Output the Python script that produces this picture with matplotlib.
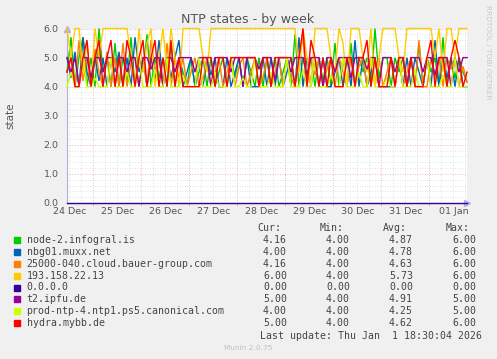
import numpy as np
import matplotlib
matplotlib.use("Agg")
import matplotlib.pyplot as plt

# ---------------- data ----------------
series_names = [
    "node-2.infogral.is",
    "nbg01.muxx.net",
    "25000-040.cloud.bauer-group.com",
    "193.158.22.13",
    "0.0.0.0",
    "t2.ipfu.de",
    "prod-ntp-4.ntp1.ps5.canonical.com",
    "hydra.mybb.de",
]
series_colors = ["#00CC00", "#0066B3", "#FF8000", "#FFCC00",
                 "#330099", "#990099", "#CCFF00", "#FF0000"]

cur_vals = ["4.16", "4.00", "4.16", "6.00", "0.00", "5.00", "4.00", "5.00"]
min_vals = ["4.00", "4.00", "4.00", "4.00", "0.00", "4.00", "4.00", "4.00"]
avg_vals = ["4.87", "4.78", "4.63", "5.73", "0.00", "4.91", "4.25", "4.62"]
max_vals = ["6.00", "6.00", "6.00", "6.00", "0.00", "5.00", "5.00", "6.00"]

node2 = [4.5,5.7,4,5,5.7,4,5,4,6,4.5,
         5,4,5.5,4,5,4.2,5.7,4,5,4.5,
         5.8,4,5,4.3,5,4,5.5,4,5,4.5,
         4,5,4,4.5,5,4,5,4,4.5,5,
         4,5,4.3,5,4,5,4.5,4,5,4,
         5,4,5,4,4.5,5,4,5.8,4,5,
         4.3,5,4,5,4.2,5,4,5.5,4,5,
         4,5.5,4,5,4.5,5,4,6,4.3,5,
         5,4,5,4.5,5,4,5,4,5.5,4,
         5,4.5,5,4,5.7,4,5,4.3,5,4.5,4.16]
nbg01 = [5,4.3,5.2,4,5.7,4.5,4,5,4.2,5,
         4,5,4.5,5.2,4,5,4,5.7,4.5,5,
         4,5,4.2,5.6,4,5,4.3,5,5.6,4,
         4.5,5,4,5,4,5,4.4,5,4,4,
         5,4,4.5,5,4,5,4,4,4,5,
         4,5,4,5,4,4.5,5,4,5.7,4,
         5,4,5,4,5,4,4,4.5,5,4,
         5,4,5.6,4,5,4,4.5,5,4,4,
         4,4,4,5,4,5,4,5,4.5,4,
         5,4,5.6,4,5,4.3,5,4,5,4,4]
bauer = [4.5,5,4,5.6,4.2,5,4,5.3,4.5,4,
         5.2,4,5,4,5.5,4,4.8,5,4,5,
         4,5.6,4.5,5,4,5.5,4,5,4.3,5,
         4,4.5,5,4,4.2,5,4,4.5,5,4,
         4.5,5,4,4.7,5,4,4.5,5,4,4.3,
         5,4,4.5,5,4,5,4.3,4,5,5.7,
         4,5,4.4,5,4,4.6,5,4,5,4.5,
         4,5,4,4.7,5,4,5,4,5,4,
         4.5,5,4,5,4,4.5,5,4,5.6,4,
         4,5,4.3,5,4,5,4.6,5,4,4.7,4.16]
ip193 = [6,5,6,6,4.5,5.5,4,6,5,6,
         6,6,6,6,6,6,5,4,6,4.5,
         5.5,6,4,5,6,4.5,6,5,4,6,
         6,6,6,6,5,4.5,6,6,6,6,
         6,6,6,6,6,6,6,6,6,6,
         6,6,6,6,6,6,6,6,4.5,6,
         5,4,6,6,6,6,5,4.5,6,5.5,
         4,6,6,6,5,4.5,6,4,5,6,
         6,6,6,5,4.5,6,6,6,6,6,
         6,6,5,6,4.5,6,6,5,6,6,6]
zero = [0] * 101
t2ipfu = [5,4.5,5,4,5,5,4.3,5,5,4.5,
          5,5,4,5,5,4.5,5,5,4,5,
          5,4.6,5,5,4,5,5,4.5,5,5,
          5,5,4.5,5,5,5,4,5,5,5,
          5,4.5,5,5,4,5,5,5,4.6,5,
          5,5,4.2,5,5,5,4.5,5,5,5,
          4.4,5,5,5,4,5,5,4.5,5,5,
          5,4.3,5,5,5,4.6,5,5,4,5,
          5,5,4.5,5,5,4,5,5,5,4.5,
          5,5,4.4,5,5,5,4,5,4.5,5,5]
prodntp = [4,4.5,4,4,5,4,4,4.3,4,4,
           4,5,4,4,4,4.5,4,4,5,4,
           4,4,4.6,4,4,5,4,4,4,4.4,
           4,4,4,5,4,4,4,4.5,4,4,
           4,5,4,4,4.3,4,4,5,4,4,
           4,4.5,4,4,4,5,4,4,4,4.6,
           4,4,5,4,4,4,4.4,4,4,5,
           4,4,4,4.5,4,4,5,4,4,4,
           4.3,4,4,5,4,4,4,4.6,4,4,
           5,4,4,4,4.4,4,4,5,4,4,4]
hydra = [4.5,5,4,4,5,5.6,4,5,5.6,4,
         5,5.6,4,5,4,5.6,5,4,5,5.6,
         4,5,5.6,4,5,4,5.6,4,5,4,
         4,4,4,4,5,5,5,4,5,5,
         4,5,5,5,5,5,5,5,4,5,
         5,4,5,5,5,5,5,4,5,6,
         4,5.6,5,4,5,4,5,4,4,4,
         5,5,4,5,5,5.6,4,5,4,4,
         4,5,4,5,5,4,5,4,4,4,
         5,5.6,4,5,5,4,5,5.6,5,4,4.5]
all_series = [node2, nbg01, bauer, ip193, zero, t2ipfu, prodntp, hydra]

day_labels = ["24 Dec", "25 Dec", "26 Dec", "27 Dec", "28 Dec",
              "29 Dec", "30 Dec", "31 Dec", "01 Jan"]

# time axis: hours since 24 Dec 00:00
t_start, t_end = 10.8, 210.8

# ---------------- figure ----------------
BG = "#F0F0F0"
TXT = "#555555"
fig = plt.figure(figsize=(4.97, 3.59), dpi=100, facecolor=BG)
W, H = 497, 359
ax = fig.add_axes([67 / W, (H - 203) / H, 400 / W, (203 - 28.5) / H])
ax.set_facecolor("white")

ax.set_xlim(t_start, t_end)
ax.set_ylim(0, 6)

# grid
for y in np.arange(0.2, 6.0, 0.2):
    if abs(y - round(y)) > 1e-6:
        ax.axhline(y, color="#D8D8D8", lw=0.6, ls=(0, (1, 2)), zorder=0)
for y in range(1, 7):
    ax.axhline(y, color="#E8A0A0", lw=0.6, ls=(0, (1, 2)), zorder=0.5)
for h in np.arange(12, 211, 6):
    if h % 24 != 0:
        ax.axvline(h, color="#D8D8D8", lw=0.6, ls=(0, (1, 2)), zorder=0)
for d in range(1, 9):
    ax.axvline(24 * d, color="#E8A0A0", lw=0.6, ls=(0, (1, 2)), zorder=0.5)

# series
for vals, col in zip(all_series, series_colors):
    x = np.linspace(t_start, t_end, len(vals))
    ax.plot(x, vals, color=col, lw=1.0, clip_on=False, zorder=3,
            solid_joinstyle="miter")

# spines
for s in ["top", "right"]:
    ax.spines[s].set_visible(False)
ax.spines["left"].set_color("#B0B0E8")
ax.spines["bottom"].set_color("#B0B0E8")
ax.spines["left"].set_linewidth(0.8)
ax.spines["bottom"].set_linewidth(0.8)
ax.plot(1.0, 0, ">", color="#B0B0E8", ms=4, transform=ax.transAxes, clip_on=False)
ax.plot(0, 1.0, "^", color="#B0B0E8", ms=4, transform=ax.transAxes, clip_on=False)

# ticks
ax.set_yticks(range(0, 7))
ax.set_yticklabels([f"{v:.1f}" for v in range(0, 7)])
ax.set_xticks([12 + 24 * i for i in range(len(day_labels))])
ax.set_xticklabels(day_labels)
ax.tick_params(axis="both", length=0, labelsize=6.8, labelcolor=TXT)
ax.tick_params(axis="y", pad=6)
ax.tick_params(axis="x", pad=3)
for d in range(1, 9):
    ax.plot([24 * d, 24 * d], [0, -0.08], color="#E8A0A0", lw=0.6, clip_on=False)

ax.set_ylabel("state", fontsize=7.5, color=TXT)
ax.yaxis.set_label_coords(-0.128, 0.5)

fig.text(248 / W, 1 - 19 / H, "NTP states - by week", ha="center", va="center",
         fontsize=9.1, color=TXT)
fig.text(488 / W, 1 - 52 / H, "RRDTOOL / TOBI OETIKER", rotation=270,
         ha="center", va="center", fontsize=5.3, color="#C8C8C8")

# legend
mono = "DejaVu Sans Mono"
fs = 7.1
LEG = "#444444"
def fy(py):
    return 1 - py / H

for label, xr in zip(["Cur:", "Min:", "Avg:", "Max:"], [281, 344, 407, 470]):
    fig.text(xr / W, fy(227.7), label, ha="right", va="center",
             family=mono, fontsize=fs, color=LEG)

row0 = 239.7
step = 11.95
for i, (name, col) in enumerate(zip(series_names, series_colors)):
    py = row0 + i * step
    fig.patches.append(plt.Rectangle((14 / W, fy(py + 3)), 6 / W, 6 / H,
                                     transform=fig.transFigure, color=col))
    fig.text(26.5 / W, fy(py), name, ha="left", va="center",
             family=mono, fontsize=fs, color=LEG)
    for val, xr in zip([cur_vals[i], min_vals[i], avg_vals[i], max_vals[i]],
                       [287, 350, 413, 476]):
        fig.text(xr / W, fy(py), val, ha="right", va="center",
                 family=mono, fontsize=fs, color=LEG)

fig.text(482 / W, fy(335.7), "Last update: Thu Jan  1 18:30:04 2026",
         ha="right", va="center", family=mono, fontsize=fs, color=LEG)
fig.text(248 / W, fy(348.3), "Munin 2.0.75", ha="center", va="center",
         fontsize=5.3, color="#C0C0C0")

fig.savefig("out.png", dpi=100, facecolor=BG)
